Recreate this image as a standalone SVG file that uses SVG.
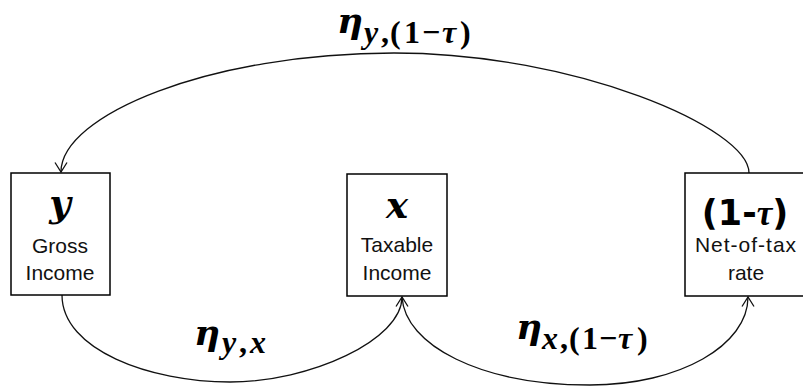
<svg xmlns="http://www.w3.org/2000/svg" width="803" height="387" viewBox="0 0 803 387">
<style>
.box{fill:#fff;stroke:#000;stroke-width:1.5}
.lbl{font-family:"Liberation Sans",Arial,sans-serif;font-size:21px;fill:#111;text-anchor:middle}
.var{font-family:"Liberation Serif","Times New Roman",serif;font-weight:bold;font-style:italic;fill:#000}
.up{font-family:"Liberation Serif","Times New Roman",serif;font-weight:bold;font-style:normal;fill:#000}
.nv{font-family:"DejaVu Serif",serif;font-weight:bold;font-style:italic;font-size:37px;fill:#000;text-anchor:middle}
.eta{font-family:"DejaVu Serif",serif;font-weight:bold;font-style:italic;font-size:36px;fill:#000}
.sub{font-size:32px}
.conn{fill:none;stroke:#111;stroke-width:1.3;marker-end:url(#arr)}
</style>
<defs>
<marker id="arr" markerUnits="userSpaceOnUse" markerWidth="20" markerHeight="20" viewBox="-10 -10 20 20" refX="0" refY="0" orient="auto" overflow="visible">
<path d="M-9.5,-6 L0,0 L-9.5,6" fill="none" stroke="#111" stroke-width="1.3"/>
</marker>
</defs>
<g id="connectors">
<path class="conn" d="M749,173 C749,128 575,53 394,53 C210,53 61,115 61,172"/>
<path class="conn" d="M62,295 C62,350 150,382 230,382 C310,382 402,340 402,297"/>
<path class="conn" d="M402,297 C405,345 480,385 590,385 C680,385 748,345 748,297"/>
</g>
<g id="node-y">
<rect class="box" x="11" y="173" width="99" height="122"/>
<text class="nv" x="60" y="216">y</text>
<text class="lbl" x="60" y="253">Gross</text>
<text class="lbl" x="60" y="280">Income</text>
</g>
<g id="node-x">
<rect class="box" x="347" y="174" width="100" height="122"/>
<text class="nv" x="397" y="218">x</text>
<text class="lbl" x="397" y="252">Taxable</text>
<text class="lbl" x="397" y="280">Income</text>
</g>
<g id="node-rate">
<rect class="box" x="685" y="173" width="125" height="123"/>
<text x="745" y="225" text-anchor="middle" font-size="35" font-family="DejaVu Sans,sans-serif" font-weight="bold" fill="#000">(1-<tspan class="var">τ</tspan>)</text>
<text class="lbl" x="746" y="252" letter-spacing="1">Net-of-tax</text>
<text class="lbl" x="746" y="280">rate</text>
</g>
<g id="label-top">
<text class="eta" x="337" y="33" font-size="34">η</text>
<text class="sub" y="43"><tspan class="var" x="364">y</tspan><tspan class="up" x="381">,</tspan><tspan class="up" x="390">(</tspan><tspan class="up" x="404">1</tspan><tspan class="up" x="422">−</tspan><tspan class="var" x="442">τ</tspan><tspan class="up" x="460">)</tspan></text>
</g>
<g id="label-yx">
<text class="eta" x="194" y="345">η</text>
<text class="sub" y="353"><tspan class="var" x="222">y</tspan><tspan class="up" x="239">,</tspan><tspan class="var" x="250">x</tspan></text>
</g>
<g id="label-x1t">
<text class="eta" x="516" y="339">η</text>
<text class="sub" y="349"><tspan class="var" x="542">x</tspan><tspan class="up" x="560">,</tspan><tspan class="up" x="569">(</tspan><tspan class="up" x="582">1</tspan><tspan class="up" x="599">−</tspan><tspan class="var" x="618">τ</tspan><tspan class="up" x="637">)</tspan></text>
</g>
</svg>
